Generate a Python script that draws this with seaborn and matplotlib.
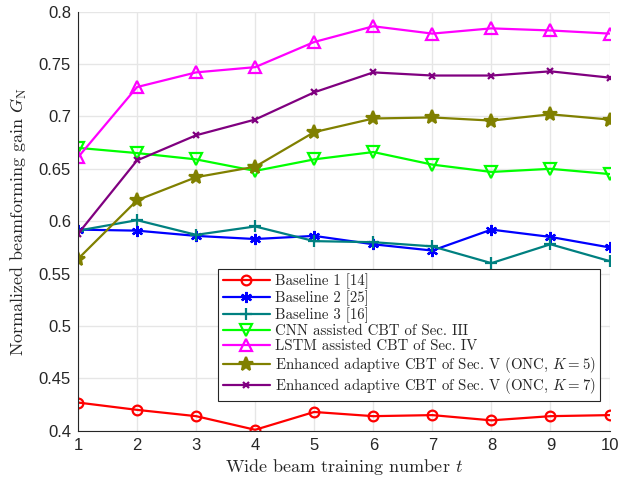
import matplotlib
matplotlib.use('Agg')
import matplotlib.pyplot as plt
import numpy as np
import pandas as pd
import seaborn as sns

# Data
t = [1, 2, 3, 4, 5, 6, 7, 8, 9, 10]
baseline1 = [0.427, 0.420, 0.414, 0.401, 0.418, 0.414, 0.415, 0.410, 0.414, 0.415]
baseline2 = [0.592, 0.591, 0.586, 0.583, 0.586, 0.578, 0.572, 0.592, 0.585, 0.575]
baseline3 = [0.591, 0.601, 0.587, 0.595, 0.581, 0.580, 0.576, 0.560, 0.578, 0.562]
cnn_cbt = [0.670, 0.665, 0.659, 0.648, 0.659, 0.666, 0.654, 0.647, 0.650, 0.645]
lstm_cbt = [0.661, 0.728, 0.742, 0.747, 0.771, 0.786, 0.779, 0.784, 0.782, 0.779]
enh_k5 = [0.564, 0.620, 0.642, 0.652, 0.685, 0.698, 0.699, 0.696, 0.702, 0.697]
enh_k7 = [0.588, 0.658, 0.682, 0.697, 0.723, 0.742, 0.739, 0.739, 0.743, 0.737]

labels = [
    'Baseline 1 [14]',
    'Baseline 2 [25]',
    'Baseline 3 [16]',
    'CNN assisted CBT of Sec. III',
    'LSTM assisted CBT of Sec. IV',
    r'Enhanced adaptive CBT of Sec. V (ONC, $K=5$)',
    r'Enhanced adaptive CBT of Sec. V (ONC, $K=7$)',
]
series = [baseline1, baseline2, baseline3, cnn_cbt, lstm_cbt, enh_k5, enh_k7]

# styles: colour, marker, size, filled
styles = [
    ('#ff0000', 'o', 7, False),
    ('#0000ff', (6, 2, 0), 8, True),
    ('#008080', '+', 9, True),
    ('#00ff00', 'v', 8, False),
    ('#ff00ff', '^', 8, False),
    ('#808000', '*', 10.5, True),
    ('#800080', 'x', 5, True),
]

sns.set_style('white')
plt.rcParams['mathtext.fontset'] = 'cm'

fig = plt.figure(figsize=(6.29, 4.83), dpi=100)
ax = fig.add_axes([0.124, 0.108, 0.845, 0.868])

for vals, lab, (col, mk, ms, filled) in zip(series, labels, styles):
    sns.lineplot(
        x=t, y=vals, ax=ax, color=col, marker=mk, markersize=ms,
        markerfacecolor=col if filled else 'none', markeredgecolor=col,
        markeredgewidth=1.6, linewidth=1.6, label=lab,
    )

ax.set_xlim(1, 10)
ax.set_ylim(0.4, 0.8)
ax.set_xticks(t)
ax.set_yticks(np.arange(0.4, 0.801, 0.05))
ax.set_xticklabels([str(v) for v in t])
ax.set_yticklabels(['0.4', '0.45', '0.5', '0.55', '0.6', '0.65', '0.7', '0.75', '0.8'])
ax.grid(True, color='#e6e6e6', linewidth=1)
ax.set_axisbelow(True)

for side in ['top', 'right']:
    ax.spines[side].set_visible(False)
for side in ['left', 'bottom']:
    ax.spines[side].set_color('#262626')
    ax.spines[side].set_linewidth(0.8)
ax.tick_params(direction='in', length=4, color='#262626', labelsize=12,
               labelcolor='#262626', pad=5)
for lbl in ax.get_xticklabels() + ax.get_yticklabels():
    lbl.set_family('Liberation Sans')

ax.set_xlabel(r'Wide beam training number $t$', fontsize=13, fontfamily='cmr10', labelpad=3)
ax.set_ylabel(r'Normalized beamforming gain $G_{\mathrm{N}}$', fontsize=13,
              fontfamily='cmr10', labelpad=7)

leg = ax.legend(loc='lower right', bbox_to_anchor=(0.983, 0.072),
                prop={'family': 'cmr10', 'size': 10.7}, frameon=True, fancybox=False,
                edgecolor='#262626', framealpha=1, labelspacing=0.1,
                handlelength=3.2, handletextpad=0.34, borderpad=0.3,
                borderaxespad=0)
leg.get_frame().set_linewidth(0.8)

fig.savefig('out.png', dpi=100)
